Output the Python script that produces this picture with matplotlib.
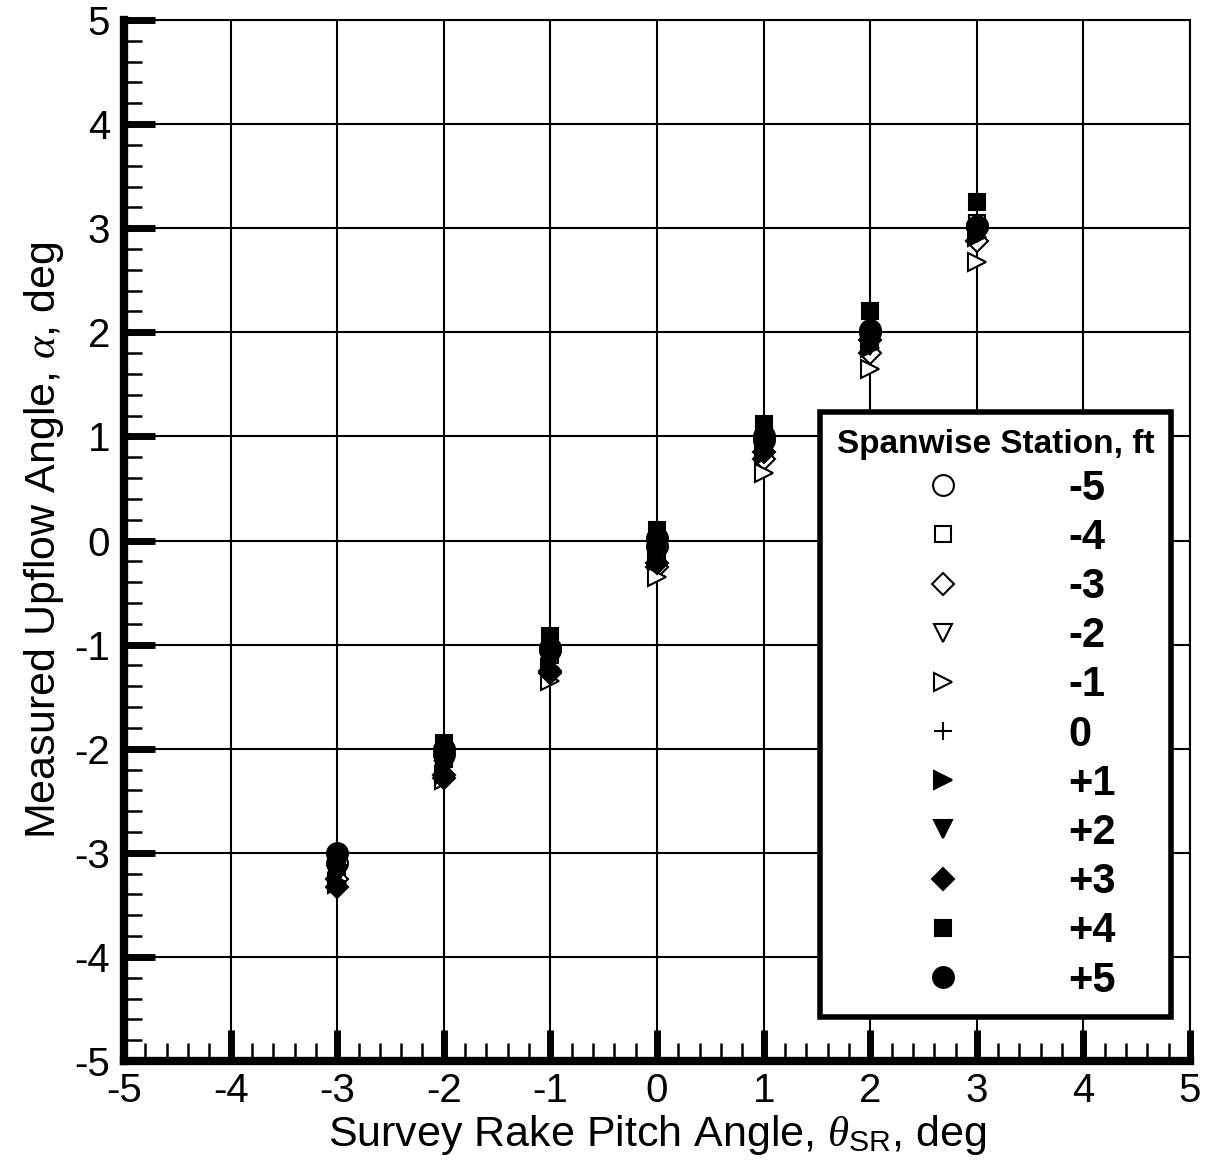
import matplotlib.pyplot as plt
from matplotlib.ticker import MultipleLocator

plt.rcParams['font.family'] = ['Liberation Sans', 'DejaVu Sans']
plt.rcParams['axes.unicode_minus'] = False
plt.rcParams['mathtext.fontset'] = 'custom'
plt.rcParams['mathtext.rm'] = 'Liberation Sans'
plt.rcParams['mathtext.it'] = 'Liberation Serif:italic'

pitch = [-3, -2, -1, 0, 1, 2, 3]

stations = ['-5', '-4', '-3', '-2', '-1', '0', '+1', '+2', '+3', '+4', '+5']
upflow = {
    '-5': [-3.10, -2.05, -1.05, -0.05, 0.97, 2.00, 3.02],
    '-4': [-3.15, -2.10, -1.10, -0.10, 0.93, 1.95, 3.05],
    '-3': [-3.25, -2.25, -1.25, -0.25, 0.78, 1.80, 2.88],
    '-2': [-3.20, -2.20, -1.18, -0.18, 0.85, 1.87, 2.95],
    '-1': [-3.30, -2.30, -1.35, -0.35, 0.65, 1.65, 2.68],
    '0':  [-3.12, -2.12, -1.12, -0.12, 0.90, 1.92, 2.98],
    '+1': [-3.28, -2.25, -1.22, -0.20, 0.82, 1.85, 2.92],
    '+2': [-3.22, -2.18, -1.15, -0.15, 0.88, 1.90, 2.96],
    '+3': [-3.33, -2.28, -1.27, -0.22, 0.85, 1.93, 3.00],
    '+4': [-3.05, -1.95, -0.92, 0.10, 1.12, 2.20, 3.25],
    '+5': [-3.00, -2.00, -1.03, 0.02, 1.00, 2.02, 3.02],
}

# marker, filled, size
styles = {
    '-5': ('o', False, 15),
    '-4': ('s', False, 11),
    '-3': ('D', False, 11),
    '-2': ('v', False, 13),
    '-1': ('>', False, 13),
    '0':  ('+', False, 13),
    '+1': ('>', True, 13),
    '+2': ('v', True, 13),
    '+3': ('D', True, 11),
    '+4': ('s', True, 11),
    '+5': ('o', True, 15),
}

fig = plt.figure(figsize=(12.11, 11.64), dpi=100)
ax = fig.add_axes([0.1024, 0.0885, 0.8803, 0.8943])

for st in stations:
    m, filled, ms = styles[st]
    ax.plot(pitch, upflow[st], linestyle='none', marker=m, markersize=ms,
            markerfacecolor='black' if filled else 'white',
            markeredgecolor='black', markeredgewidth=1.5, label=st,
            zorder=3)

ax.set_xlim(-5, 5)
ax.set_ylim(-5, 5)
ax.xaxis.set_major_locator(MultipleLocator(1))
ax.yaxis.set_major_locator(MultipleLocator(1))
ax.xaxis.set_minor_locator(MultipleLocator(0.2))
ax.yaxis.set_minor_locator(MultipleLocator(0.2))
ax.grid(True, which='major', color='black', linewidth=1.5)
ax.tick_params(which='major', direction='in', length=22, width=5,
               labelsize=29)
ax.tick_params(axis='x', which='major', pad=8)
ax.tick_params(axis='y', which='major', pad=10)
ax.tick_params(which='minor', direction='in', length=13, width=1.8)

for s in ['left', 'bottom']:
    ax.spines[s].set_linewidth(6)
for s in ['top', 'right']:
    ax.spines[s].set_linewidth(1.5)

ax.set_xlabel(r'Survey Rake Pitch Angle, $\theta_{\rm SR}$, deg', fontsize=31,
              labelpad=2)
ax.set_ylabel(r'Measured Upflow Angle, $\alpha$, deg', fontsize=31,
              labelpad=6)

leg = ax.legend(loc='upper left', bbox_to_anchor=(820 / 1211, 1 - 412 / 1164),
                bbox_transform=fig.transFigure, title='Spanwise Station, ft',
                prop={'weight': 'bold', 'size': 30},
                title_fontproperties={'weight': 'bold', 'size': 24},
                fancybox=False, framealpha=1, edgecolor='black',
                borderpad=0.4, labelspacing=0.22, handletextpad=0.45,
                handlelength=5.1, borderaxespad=0)
leg.get_frame().set_linewidth(4)
leg._legend_box.align = 'left'
for h in leg.legend_handles:
    h.set_markeredgewidth(1.5)

fig.savefig('out.png', dpi=100)
